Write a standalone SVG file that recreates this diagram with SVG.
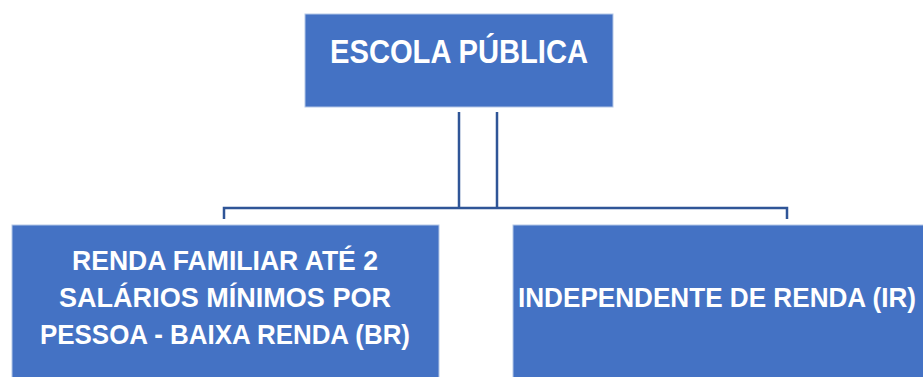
<svg xmlns="http://www.w3.org/2000/svg" width="923" height="377" viewBox="0 0 923 377">
<style>
.box{fill:#4472C4;stroke:#B4C7E7;stroke-width:1}
.t{fill:#fff;font-family:"Liberation Sans Narrow","Liberation Sans",Arial,sans-serif;font-weight:bold;text-anchor:middle}
.c{fill:none;stroke:#2F5597;stroke-width:2.5}
</style>
<rect width="923" height="377" fill="#fff"/>
<g id="connectors">
<path class="c" d="M459 112V208M497 112V208M224 219V208H787V219"/>
</g>
<g id="escola">
<rect class="box" x="305" y="14" width="308" height="93"/>
<text class="t" x="459" y="62.5" font-size="34" textLength="258" lengthAdjust="spacingAndGlyphs">ESCOLA PÚBLICA</text>
</g>
<g id="baixa-renda">
<rect class="box" x="12" y="225" width="427" height="160"/>
<text class="t" x="225" y="270" font-size="28" textLength="306" lengthAdjust="spacingAndGlyphs">RENDA FAMILIAR ATÉ 2</text>
<text class="t" x="225" y="307" font-size="28" textLength="332" lengthAdjust="spacingAndGlyphs">SALÁRIOS MÍNIMOS POR</text>
<text class="t" x="225" y="344" font-size="28" textLength="370" lengthAdjust="spacingAndGlyphs">PESSOA - BAIXA RENDA (BR)</text>
</g>
<g id="independente">
<rect class="box" x="513" y="225" width="420" height="160"/>
<text class="t" x="717" y="307" font-size="28" textLength="398" lengthAdjust="spacingAndGlyphs">INDEPENDENTE DE RENDA (IR)</text>
</g>
</svg>
